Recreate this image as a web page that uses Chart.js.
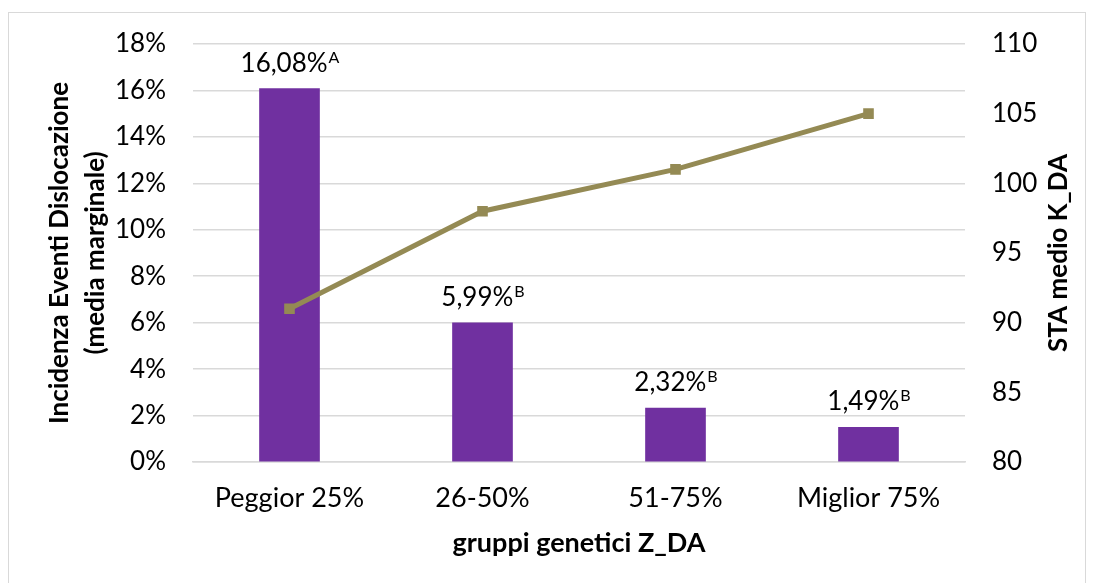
<!DOCTYPE html>
<html>
<head>
<meta charset="utf-8">
<script src="https://cdn.jsdelivr.net/npm/chart.js@4"></script>
<style>
  html, body { margin: 0; padding: 0; background: #fff; overflow: hidden; }
  #frame { position: absolute; left: 8px; top: 12px; width: 1078px; height: 620px; border: 1px solid #d9d9d9; box-sizing: border-box; }
  #chart { position: absolute; left: 0; top: 0; }
</style>
</head>
<body>
<div id="frame"></div>
<canvas id="chart" width="1094" height="583"></canvas>
<script>
// ---------- data ----------
const categories  = ['Peggior 25%', '26-50%', '51-75%', 'Miglior 75%'];
const incidence   = [0.1608, 0.0599, 0.0232, 0.0149];
const incLabels   = ['16,08%', '5,99%', '2,32%', '1,49%'];
const incLetters  = ['A', 'B', 'B', 'B'];
const staMedio    = [91, 98, 101, 105];

const FONT = 'Lato, "Noto Sans", sans-serif';
const TXT  = '#000';
const GRID = '#d9d9d9';

// ---------- labels above bars + right title ----------
const extras = {
    id: 'extras',
    afterDatasetsDraw(chart) {
        const ctx = chart.ctx;
        const meta = chart.getDatasetMeta(1);   // bar dataset
        ctx.save();
        ctx.fillStyle = TXT;
        ctx.textBaseline = 'alphabetic';
        ctx.textAlign = 'left';
        meta.data.forEach((bar, i) => {
            ctx.font = '26px ' + FONT;
            const w1 = ctx.measureText(incLabels[i]).width;
            ctx.font = '16px ' + FONT;
            const w2 = ctx.measureText(incLetters[i]).width;
            const x0 = bar.x - (w1 + w2) / 2;
            const base = bar.y - 17;
            ctx.font = '26px ' + FONT;
            ctx.fillText(incLabels[i], x0, base);
            ctx.font = '16px ' + FONT;
            ctx.fillText(incLetters[i], x0 + w1 + 1, base - 9);
        });
        // right axis title, reads bottom-to-top
        const a = chart.chartArea;
        ctx.translate(1059, (a.top + a.bottom) / 2);
        ctx.rotate(-Math.PI / 2);
        ctx.font = 'bold 26px ' + FONT;
        ctx.textAlign = 'center';
        ctx.textBaseline = 'middle';
        ctx.fillText('STA medio K_DA', 0, 0);
        ctx.restore();
    }
};

// ---------- chart ----------
const chart = new Chart(document.getElementById('chart'), {
    data: {
        labels: categories,
        datasets: [
            {
                type: 'line',
                label: 'STA medio K_DA',
                data: staMedio,
                yAxisID: 'yR',
                borderColor: '#948A54',
                backgroundColor: '#948A54',
                borderWidth: 5,
                pointStyle: 'rect',
                pointRadius: 7.5,
                pointBorderWidth: 0,
                tension: 0,
                order: 0
            },
            {
                type: 'bar',
                label: 'Incidenza',
                data: incidence,
                yAxisID: 'yL',
                backgroundColor: '#7030A0',
                barThickness: 60,
                order: 1
            }
        ]
    },
    options: {
        responsive: false,
        animation: false,
        layout: { padding: { top: 44, left: 0, right: 0, bottom: 0 } },
        plugins: { legend: { display: false }, tooltip: { enabled: false } },
        scales: {
            x: {
                grid: { display: false, drawTicks: false },
                border: { color: GRID, width: 1.5 },
                ticks: { color: TXT, font: { family: FONT, size: 27 }, padding: 20 },
                title: {
                    display: true, text: 'gruppi genetici Z_DA', color: TXT,
                    font: { family: FONT, size: 27, weight: 'bold' }, padding: { top: 0, bottom: 24 }
                },
                afterFit(s) { s.height = 121; }
            },
            yL: {
                position: 'left',
                min: 0, max: 0.18,
                grid: { color: GRID, lineWidth: 1.5, drawTicks: false },
                border: { display: false },
                ticks: {
                    stepSize: 0.02, color: TXT, padding: 27,
                    font: { family: FONT, size: 26 },
                    callback: v => Math.round(v * 100) + '%'
                },
                title: {
                    display: true, text: ['Incidenza Eventi Dislocazione', '(media marginale)'], color: TXT,
                    font: { family: FONT, size: 26, weight: 'bold', lineHeight: '36px' },
                    padding: { top: 42, bottom: 0 }
                },
                afterFit(s) { s.width = 193; }
            },
            yR: {
                position: 'right',
                min: 80, max: 110,
                grid: { display: false, drawTicks: false },
                border: { display: false },
                ticks: { stepSize: 5, color: TXT, padding: 27, font: { family: FONT, size: 26 } },
                afterFit(s) { s.width = 129; }
            }
        }
    },
    plugins: [extras]
});
</script>
</body>
</html>
